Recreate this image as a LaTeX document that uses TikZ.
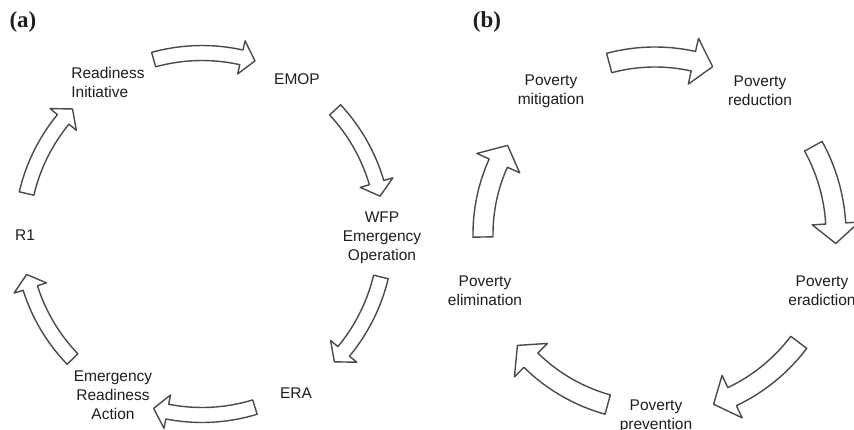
\documentclass[tikz,border=0pt]{standalone}
\usepackage{fontspec}
\setmainfont{Liberation Sans}
\newfontfamily\tagfont{Liberation Serif}
\usepackage{tikz}
\usetikzlibrary{calc}
\usepackage{xcolor}

\definecolor{arrowline}{HTML}{4A4A4A}
\definecolor{textdark}{HTML}{1E1E1E}

% sizes of the curved block arrows (set per panel)
\newcommand{\bodyw}{15}
\newcommand{\headw}{34}
\newcommand{\headl}{14}

% curved block arrow on a circle: #1 centre, #2 radius, #3 tail angle, #4 tip angle
\newcommand{\cyclearrow}[4]{%
  \pgfmathsetmacro{\arOut}{#2+\bodyw/2}%
  \pgfmathsetmacro{\arIn}{#2-\bodyw/2}%
  \pgfmathsetmacro{\arHout}{#2+\headw/2}%
  \pgfmathsetmacro{\arHin}{#2-\headw/2}%
  \pgfmathsetmacro{\arBase}{#4+\headl/#2*180/pi}%
  \begin{scope}[shift={(#1)}]
    \draw[blockarrow] (#3:\arOut) arc[start angle=#3, end angle=\arBase, radius=\arOut]
      -- (\arBase:\arHout) -- (#4:#2) -- (\arBase:\arHin) -- (\arBase:\arIn)
      arc[start angle=\arBase, end angle=#3, radius=\arIn] -- cycle;
  \end{scope}}

\tikzset{
  stage/.style={inner sep=0pt, align=center, text=textdark,
    font=\fontsize{15.5}{19}\selectfont},
  paneltag/.style={inner sep=0pt, text=textdark,
    font=\tagfont\bfseries\fontsize{23}{26}\selectfont},
  blockarrow/.style={draw=arrowline, fill=white, line width=1.4pt, line join=round}
}

\begin{document}
\begin{tikzpicture}[x=1pt, y=1pt]
  \useasboundingbox[fill=white] (0,0) rectangle (854,429);

  % Panel (a)
  \node[paneltag] (taga) at (23,407) {(a)};
  \coordinate (ca) at (202,195);

  \node[stage, align=left] (readi) at (108,347) {Readiness\\Initiative};
  \node[stage] (emop) at (297,350) {EMOP};
  \node[stage] (wfp) at (382,191) {WFP\\Emergency\\Operation};
  \node[stage] (era) at (296,36) {ERA};
  \node[stage] (erac) at (113,34) {Emergency\\Readiness\\Action};
  \node[stage] (rone) at (25,194) {R1};

  \cyclearrow{ca}{181}{105.5}{73}
  \cyclearrow{ca}{182}{43}{12}
  \cyclearrow{ca}{184}{-13.5}{-44}
  \cyclearrow{ca}{181}{-73}{-105.5}
  \cyclearrow{ca}{180}{-136}{-167}
  \cyclearrow{ca}{180}{167}{136}

  % Panel (b)
  \renewcommand{\bodyw}{20}
  \renewcommand{\headw}{47}
  \renewcommand{\headl}{20}

  \node[paneltag] (tagb) at (487,407) {(b)};
  \coordinate (cb) at (655,195);

  \node[stage] (mitig) at (551,338) {Poverty\\mitigation};
  \node[stage] (reduc) at (760,338) {Poverty\\reduction};
  \node[stage] (eradi) at (822,138) {Poverty\\eradiction};
  \node[stage] (preve) at (656,13) {Poverty\\prevention};
  \node[stage] (elimi) at (485,138) {Poverty\\elimination};

  \cyclearrow{cb}{177}{105}{71}
  \cyclearrow{cb}{181}{29}{-3}
  \cyclearrow{cb}{180}{-37}{-71}
  \cyclearrow{cb}{177}{-105.5}{-141}
  \cyclearrow{cb}{172}{181}{149}
\end{tikzpicture}
\end{document}
